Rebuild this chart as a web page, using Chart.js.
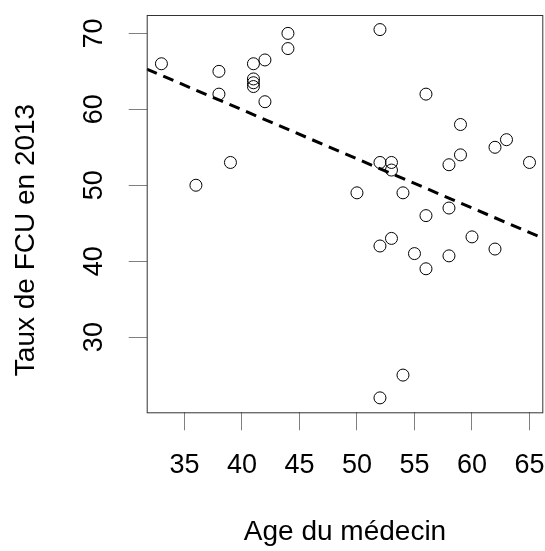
<!DOCTYPE html>
<html>
<head>
<meta charset="utf-8">
<script src="https://cdn.jsdelivr.net/npm/chart.js@4.4.1/dist/chart.umd.min.js"></script>
<style>
  html, body { margin: 0; padding: 0; background: #fff; }
  #wrap { width: 545px; height: 551px; }
</style>
</head>
<body>
<div id="wrap"><canvas id="plot" width="545" height="551"></canvas></div>
<script>
// ─── Data ──────────────────────────────────────────────────────
const ages  = [33, 38, 38, 39, 36, 41, 41, 41, 41, 42, 42, 44, 44,
               52, 56, 59, 59, 58, 62, 63, 65, 52, 53, 53, 50, 54,
               58, 56, 52, 53, 55, 56, 58, 60, 62, 54, 52];
const taux  = [66, 65, 62, 53, 50, 66, 64, 63.5, 63, 66.5, 61, 70, 68,
               70.5, 62, 58, 54, 52.7, 55, 56, 53, 53, 53, 52, 49, 49,
               47, 46, 42, 43, 41, 39, 40.7, 43.2, 41.6, 25, 22];

// fitted line, two ends as seen at the plot edges
const fitX  = [31.72, 66.2];
const fitY  = [65.3, 43.0];

const xTicks = [35, 40, 45, 50, 55, 60, 65];
const yTicks = [30, 40, 50, 60, 70];

const xTitle = 'Age du médecin';
const yTitle = 'Taux de FCU en 2013';

const FONT = 'Liberation Sans, Arial, sans-serif';

// ─── Frame + rotated y labels (R style) ────────────────────────
const rFrame = {
    id: 'rFrame',
    afterDraw(chart) {
        const { ctx, chartArea: a, scales } = chart;
        ctx.save();
        ctx.strokeStyle = '#333';
        ctx.lineWidth = 1;
        ctx.strokeRect(a.left + 0.5, a.top + 0.5, a.right - a.left - 1, a.bottom - a.top);

        ctx.fillStyle = '#000';
        ctx.font = `27px ${FONT}`;
        ctx.textAlign = 'center';
        ctx.textBaseline = 'middle';
        scales.y.ticks.forEach(t => {
            const py = scales.y.getPixelForValue(t.value);
            ctx.save();
            ctx.translate(95, py);
            ctx.rotate(-Math.PI / 2);
            ctx.fillText(String(t.value), 0, 0);
            ctx.restore();
        });

        ctx.font = `28px ${FONT}`;
        ctx.translate(26, 240);
        ctx.rotate(-Math.PI / 2);
        ctx.fillText(yTitle, 0, 0);
        ctx.restore();
    }
};

new Chart(document.getElementById('plot'), {
    type: 'scatter',
    data: {
        datasets: [
            {
                data: ages.map((a, i) => ({ x: a, y: taux[i] })),
                pointRadius: 6,
                pointHoverRadius: 6,
                pointBorderWidth: 1,
                pointBorderColor: '#000',
                pointBackgroundColor: 'rgba(0,0,0,0)'
            },
            {
                type: 'line',
                data: fitX.map((x, i) => ({ x, y: fitY[i] })),
                borderColor: '#000',
                borderWidth: 3,
                borderDash: [11, 7],
                pointRadius: 0,
                fill: false
            }
        ]
    },
    options: {
        responsive: false,
        animation: false,
        devicePixelRatio: 1,
        layout: { autoPadding: false, padding: { top: 15, right: 1.7, left: 0, bottom: 0 } },
        plugins: { legend: { display: false }, tooltip: { enabled: false } },
        scales: {
            x: {
                type: 'linear',
                min: 31.72, max: 66.2,
                afterBuildTicks: s => { s.ticks = xTicks.map(v => ({ value: v })); },
                afterFit: s => { s.height = 138.7; s.paddingLeft = 0; s.paddingRight = 0; },
                grid: { drawOnChartArea: false, drawTicks: true, tickLength: 18, color: '#808080', lineWidth: 1 },
                border: { display: false },
                ticks: { color: '#000', font: { family: FONT, size: 27 }, padding: 19, maxRotation: 0, autoSkip: false },
                title: { display: true, text: xTitle, color: '#000', font: { family: FONT, size: 28 }, padding: { top: 0, bottom: 2 } }
            },
            y: {
                type: 'linear',
                min: 20.1, max: 72.42,
                afterBuildTicks: s => { s.ticks = yTicks.map(v => ({ value: v })); },
                afterFit: s => { s.width = 146.7; s.paddingTop = 0; s.paddingBottom = 0; },
                grid: { drawOnChartArea: false, drawTicks: true, tickLength: 18, color: '#808080', lineWidth: 1 },
                border: { display: false },
                ticks: { display: false }
            }
        }
    },
    plugins: [rFrame]
});
</script>
</body>
</html>
